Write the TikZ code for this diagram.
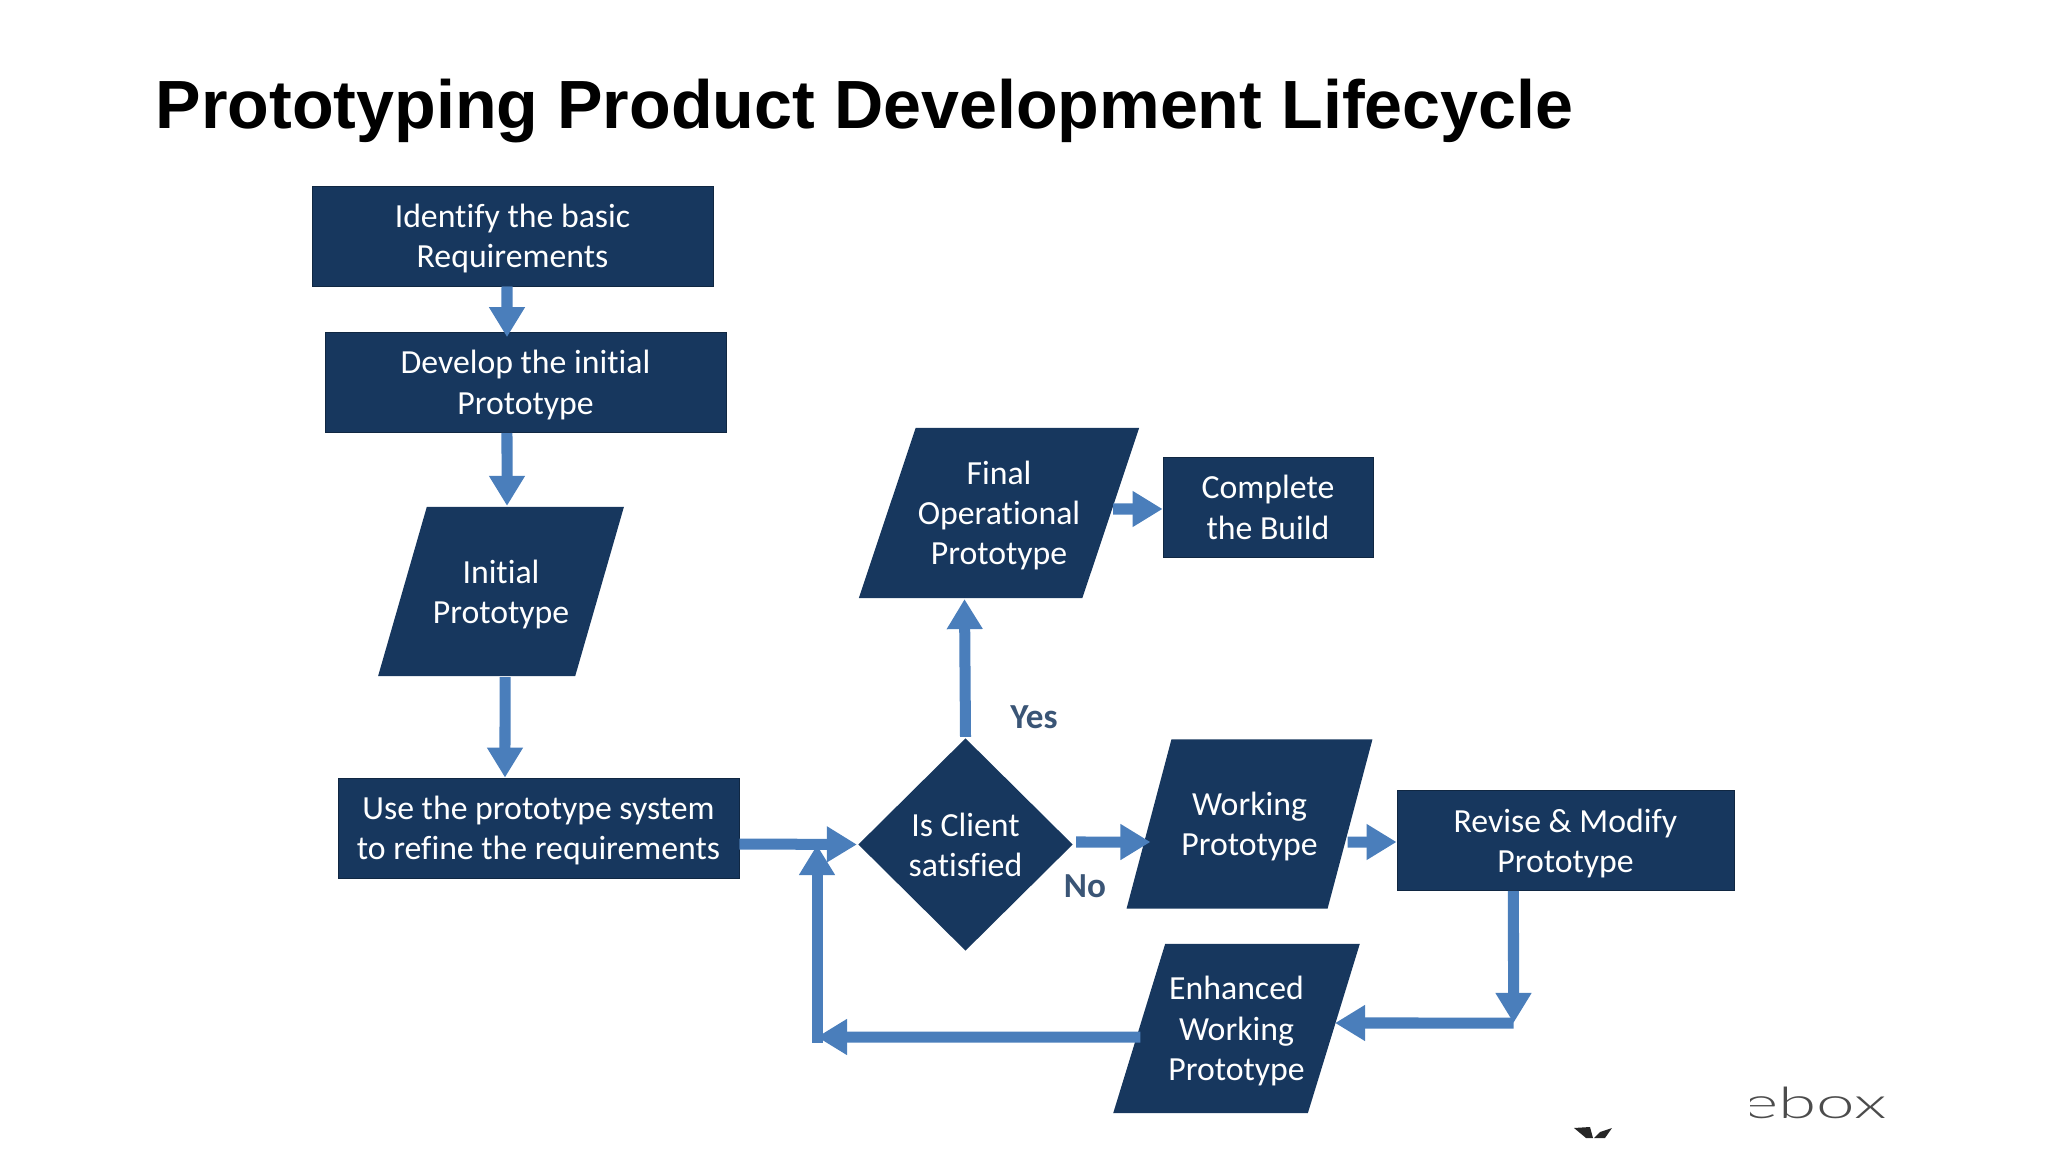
\documentclass[tikz,border=0pt]{standalone}
\usepackage{fontspec}
\setmainfont[Ligatures=NoCommon]{Carlito}
\newfontfamily\titlefont{Liberation Sans}
\newfontfamily\logofont{Lato Light}
\usepackage{tikz}
\usetikzlibrary{arrows.meta,shapes.geometric}
\definecolor{navy}{HTML}{17375E}
\definecolor{flow}{HTML}{4A7EBB}

\begin{document}
\begin{tikzpicture}[x=.01cm,y=-.01cm
  ,>={Triangle[width=.34cm,length=.3cm]}
  ,semithick]
  \tikzstyle{every node}=[text=white,font=\fontsize{9.6}{11.4}\selectfont,align=center,inner sep=0pt]
  \tikzstyle{stepbox}=[rectangle,fill=navy,draw=navy!70!black,very thin,minimum height=1cm,text depth=.1pt]
  \tikzstyle{datashape}=[trapezium,trapezium stretches=true,fill=navy,minimum height=1.69cm,minimum width=2.47cm
  ,trapezium left angle=#1,trapezium right angle=180-#1,text depth=.1pt]
  \tikzstyle{flowline}=[->,flow,line width=.11cm]
  \tikzstyle{answer}=[text=navy!85!white,font=\fontsize{10}{12}\selectfont\bfseries]

  \useasboundingbox (0,0) rectangle (2048,1152);

  \node[text=black,font=\titlefont\fontsize{19.4}{22}\selectfont\bfseries] (title) at (864.5,111) {Prototyping Product Development Lifecycle};

  % left column
  \node[stepbox,minimum width=4.01cm] (reqs) at (512.5,236) {Identify the basic\\Requirements};
  \node[stepbox,minimum width=4.01cm] (devel) at (525.5,382.5) {Develop the initial\\Prototype};
  \node[datashape=55] (init) at (501,591.5) {Initial\\Prototype};
  \node[stepbox,minimum width=4.01cm] (use) at (538.5,828) {Use the prototype system\\to refine the requirements};

  % decision and the loop
  \node[diamond,fill=navy,minimum width=2.15cm,minimum height=2.13cm] (client) at (965.5,844.5) {Is Client\\satisfied};
  \node[datashape=62,minimum width=2.82cm,minimum height=1.7cm] (final) at (999,513) {Final\\Operational\\Prototype};
  \node[stepbox,minimum width=2.1cm] (compl) at (1268,507.5) {Complete\\the Build};
  \node[datashape=58.5] (work) at (1249.5,824) {Working\\Prototype};
  \node[stepbox,minimum width=3.37cm] (revise) at (1565.5,840.5) {Revise \& Modify\\Prototype};
  \node[datashape=64.5] (enh) at (1236.5,1028.5) {Enhanced\\Working\\Prototype};

  \node[answer] (yes) at (1034,717) {Yes};
  \node[answer] (no) at (1085,886) {No};

  \coordinate (corner) at (1513.5,1023);
  \coordinate (back) at (817,1037);
  \coordinate (join) at (817,845);

  \path[flowline]
  ([xshift=-.055cm]reqs.south) edge[shorten >=-.05cm] ([xshift=-.185cm]devel.north)
  ([xshift=-.185cm]devel.south) edge ([xshift=.06cm]init.north)
  ([xshift=.04cm]init.south) edge ([xshift=-.335cm]use.north)
  ([yshift=-.16cm]use.east) edge (client.west)
  (client.north) edge ([xshift=-.345cm]final.south)
  ([xshift=.02cm,yshift=.025cm]client.east) edge ([xshift=-.99cm,yshift=-.18cm]work.center)
  ([xshift=.98cm,yshift=-.18cm]work.center) edge ([yshift=-.015cm]revise.west)
  ([xshift=1.14cm,yshift=.04cm]final.center) edge ([yshift=-.015cm]compl.west)
  ([xshift=-.52cm]revise.south) edge (corner)
  (corner) edge ([xshift=.985cm,yshift=.055cm]enh.center);
  \path[flowline,line cap=rect]
  ([xshift=-1.015cm,yshift=-.085cm]enh.center) edge (back)
  (back) edge (join);

  % cut off logo in the corner
  \begin{scope}
    \clip (1750,1060) rectangle (1900,1140);
    \node[text=black!70,font=\logofont\fontsize{12.3}{14}\selectfont,xscale=1.6] (logo) at (1814.5,1103) {ebox};
  \end{scope}
  \fill[black!85] (1574,1128) -- (1590,1127) -- (1593,1138) -- (1586,1138) -- cycle;
  \fill[black!85] (1612,1128) -- (1600,1132) -- (1594,1138) -- (1605,1138) -- cycle;
\end{tikzpicture}
\end{document}
